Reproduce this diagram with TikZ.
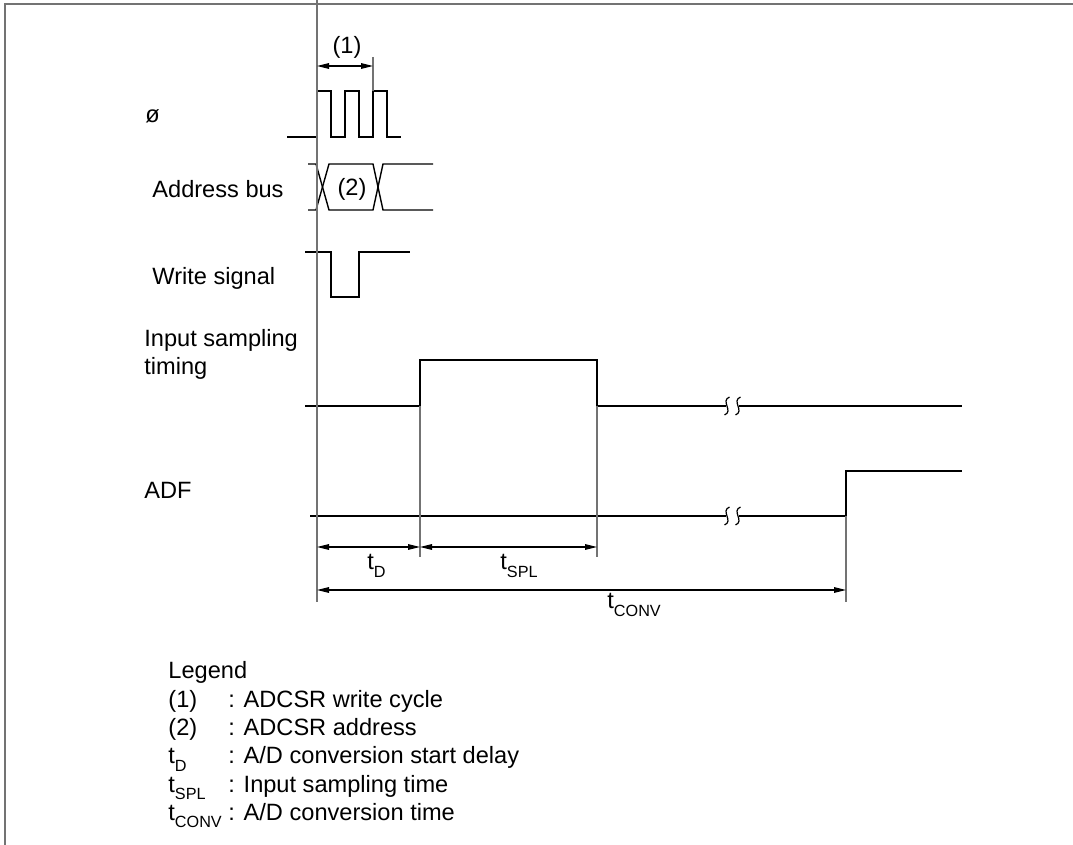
\documentclass[tikz,border=0pt]{standalone}
\usepackage{fontspec}
\setmainfont{Liberation Sans}
\usetikzlibrary{arrows.meta}
\newcommand{\tsub}[1]{t\raisebox{-0.6ex}{\fontsize{8.1}{9}\selectfont #1}}

\begin{document}
\begin{tikzpicture}[x=0.5pt,y=-0.5pt,>={Triangle[length=6pt,width=2.8pt]}]
\tikzset{
  sig/.style={draw=black,line width=.7pt},
  guide/.style={draw=black!55,line width=.7pt},
  dim/.style={<->,draw=black,line width=.6pt},
  lab/.style={font=\fontsize{11.8}{14.15}\selectfont,inner sep=0pt},
  brkmark/.pic={\draw[black,line width=.6pt] (2.5,-9) .. controls (-7,-5) and (7,5) .. (-2.5,9);}
}
\useasboundingbox (0,0) rectangle (1073,845);
% frame
\draw[black!55,line width=1pt] (5,845) -- (5,4) -- (1073,4);

% signal names
\node[lab,anchor=base west] (phi) at (145,123) {ø};
\node[lab,anchor=base west] (abus) at (152,198) {Address bus};
\node[lab,anchor=base west] (wr) at (152,285) {Write signal};
\node[lab,anchor=base west,align=left] (samp) at (144,375) {Input sampling\\timing};
\node[lab,anchor=base west] (adf) at (144,499) {ADF};

% waveforms
\draw[sig] (287,137) -- (317,137) -- (317,91) -- (331,91) -- (331,137) -- (345,137) -- (345,91) -- (359,91)
  -- (359,137) -- (373,137) -- (373,91) -- (387,91) -- (387,137) -- (401,137);
\draw[sig] (308,164) -- (316,164) -- (329,210) -- (373,210) -- (383,164) -- (433,164);
\draw[sig] (308,210) -- (316,210) -- (329,164) -- (373,164) -- (383,210) -- (433,210);
\node[lab,anchor=base] (addr) at (352,196) {(2)};
\draw[sig] (305,252) -- (331,252) -- (331,297) -- (359,297) -- (359,252) -- (410,252);
\draw[sig] (305,406) -- (420,406) -- (420,360) -- (597,360) -- (597,406) -- (726,406);
\draw[sig] (739,406) -- (962,406);
\draw[sig] (310,516) -- (726,516);
\draw[sig] (739,516) -- (846,516) -- (846,471) -- (962,471);
\pic at (727,406) {brkmark};
\pic at (738,406) {brkmark};
\pic at (727,516) {brkmark};
\pic at (738,516) {brkmark};

% guide lines
\draw[guide] (317,0) -- (317,602);
\draw[guide] (373,57) -- (373,91);
\draw[guide] (420,406) -- (420,557);
\draw[guide] (597,406) -- (597,557);
\draw[guide] (846,516) -- (846,602);

% dimensions
\coordinate (w0) at (317,66);
\coordinate (w1) at (373,66);
\coordinate (d0) at (317,547);
\coordinate (d1) at (420,547);
\coordinate (d2) at (597,547);
\coordinate (c0) at (317,590);
\coordinate (c1) at (846,590);
\draw[dim] (w0) -- (w1);
\draw[dim] (d0) -- (d1);
\draw[dim] (d1) -- (d2);
\draw[dim] (c0) -- (c1);
\node[lab,anchor=base] (cyc) at (347,54) {(1)};
\node[lab,anchor=base west] (td) at (367,570) {\tsub{D}};
\node[lab,anchor=base west] (tspl) at (500,570) {\tsub{SPL}};
\node[lab,anchor=base west] (tconv) at (607,609) {\tsub{CONV}};

% legend
\node[lab,anchor=base west] (legend) at (168,679) {\begin{tabular}[t]{@{}p{30pt}@{}l@{}}
\multicolumn{2}{@{}l}{Legend}\\
(1) & : ADCSR write cycle\\
(2) & : ADCSR address\\
\tsub{D} & : A/D conversion start delay\\
\tsub{SPL} & : Input sampling time\\
\tsub{CONV} & : A/D conversion time
\end{tabular}};
\end{tikzpicture}
\end{document}
